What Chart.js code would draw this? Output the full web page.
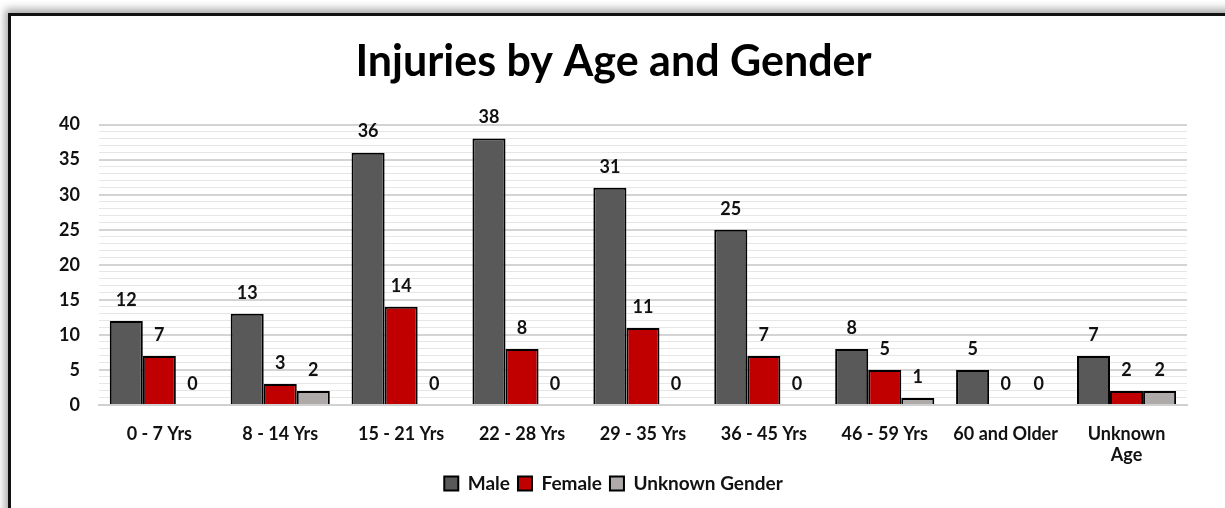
<!DOCTYPE html>
<html lang="en">
<head>
  <meta charset="UTF-8">
  <title>Injuries by Age and Gender</title>
  <script src="https://cdn.jsdelivr.net/npm/chart.js"></script>
  <style>
    body {
      margin: 0;
      background: #fff;
      width: 1225px;
      height: 508px;
      overflow: hidden;
      position: relative;
      font-family: 'Lato', sans-serif;
    }

    #frame {
      position: absolute;
      left: 8px;
      top: 13px;
      width: 1240px;
      height: 520px;
      border-top: 3px solid #111;
      border-left: 3px solid #111;
      box-shadow: -3px -4px 8px rgba(0, 0, 0, 0.35);
    }

    #chart-box {
      position: absolute;
      left: 0;
      top: 0;
      width: 1225px;
      height: 508px;
    }
  </style>
</head>
<body>
  <div id="frame"></div>
  <div id="chart-box">
    <canvas id="injuryChart"></canvas>
  </div>

  <script>
    const ageGroups = ['0 - 7 Yrs', '8 - 14 Yrs', '15 - 21 Yrs', '22 - 28 Yrs', '29 - 35 Yrs',
      '36 - 45 Yrs', '46 - 59 Yrs', '60 and Older', ['Unknown', 'Age']];
    const maleCounts = [12, 13, 36, 38, 31, 25, 8, 5, 7];
    const femaleCounts = [7, 3, 14, 8, 11, 7, 5, 0, 2];
    const unknownGenderCounts = [0, 2, 0, 0, 0, 0, 1, 0, 2];
    const yTickLabels = [0, 5, 10, 15, 20, 25, 30, 35, 40];

    // draws the value above each bar
    const valueLabels = {
      id: 'valueLabels',
      afterDatasetsDraw(chart) {
        const ctx = chart.ctx;
        ctx.save();
        ctx.font = 'bold 18px Lato';
        ctx.fillStyle = '#111';
        ctx.textAlign = 'center';
        ctx.textBaseline = 'middle';
        chart.data.datasets.forEach((ds, i) => {
          chart.getDatasetMeta(i).data.forEach((bar, j) => {
            ctx.fillText(ds.data[j], bar.x, bar.y - 21);
          });
        });
        ctx.restore();
      }
    };

    const tickFont = { family: 'Lato', size: 18, weight: 'bold' };

    new Chart(document.getElementById('injuryChart'), {
      type: 'bar',
      data: {
        labels: ageGroups,
        datasets: [
          { label: 'Male', data: maleCounts, backgroundColor: '#595959' },
          { label: 'Female', data: femaleCounts, backgroundColor: '#C00000' },
          { label: 'Unknown Gender', data: unknownGenderCounts, backgroundColor: '#AEAAAA' }
        ]
      },
      options: {
        responsive: true,
        maintainAspectRatio: false,
        animation: false,
        datasets: {
          bar: {
            borderColor: '#000',
            borderWidth: 2,
            barPercentage: 1,
            categoryPercentage: 0.82
          }
        },
        layout: { padding: { left: 40, right: 38, top: 36, bottom: 5 } },
        plugins: {
          title: {
            display: true,
            text: 'Injuries by Age and Gender',
            color: '#000',
            font: { family: 'Lato', size: 43, weight: 'bold' },
            padding: { top: 0, bottom: 37 }
          },
          legend: {
            position: 'bottom',
            labels: {
              color: '#111',
              font: { family: 'Lato', size: 19, weight: 'bold' },
              boxWidth: 14,
              boxHeight: 14,
              padding: 8
            }
          },
          tooltip: { enabled: false }
        },
        scales: {
          x: {
            grid: { display: false, drawTicks: false },
            border: { color: '#d0d0d0', width: 2 },
            ticks: { color: '#111', font: tickFont, padding: 18, maxRotation: 0 },
            afterFit: scale => { scale.height = 61; }
          },
          y: {
            min: 0,
            max: 40,
            border: { display: false },
            grid: {
              drawTicks: false,
              color: ctx => (ctx.tick && ctx.tick.value % 5 === 0) ? '#d4d4d4' : '#e6e6e6',
              lineWidth: ctx => (ctx.tick && ctx.tick.value % 5 === 0) ? 2 : 1
            },
            ticks: {
              stepSize: 1,
              color: '#111',
              font: tickFont,
              padding: 19,
              autoSkip: false,
              callback: v => yTickLabels.includes(v) ? v : ''
            }
          }
        }
      },
      plugins: [valueLabels]
    });
  </script>
</body>
</html>
